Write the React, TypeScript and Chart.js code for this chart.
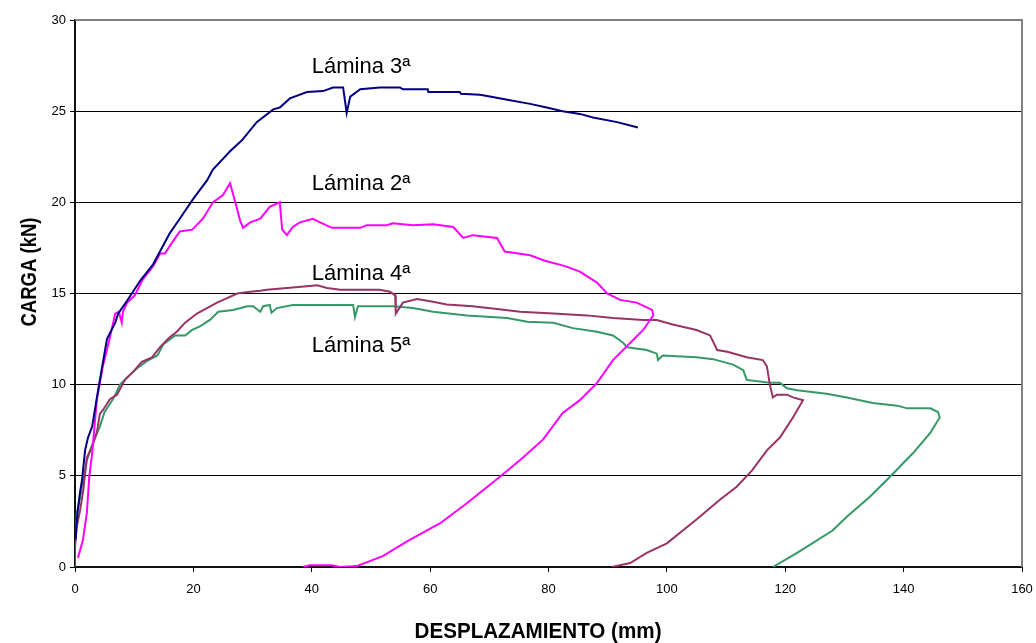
import { useEffect, useRef } from 'react';
import { Chart, registerables } from 'chart.js';
Chart.register(...registerables);

// Lámina 3ª (navy)
const lam3X = [0.1, 0.3, 0.8, 1.2, 1.7, 2.2, 2.9, 3.7, 5.4, 6.8, 7.3, 8.8, 11, 13.2, 16, 17.7, 20, 22.3, 23.3, 26.2, 28.2, 30.7, 33.5, 34.6, 36.3, 39.2, 41.9, 43.6, 45.3, 45.9, 46.5, 48.2, 51.5, 54.9, 55.4, 59.6, 59.7, 65, 65.2, 68.4, 70.1, 73.5, 76.9, 79.7, 82.4, 85.3, 87.5, 91.6, 95.1];
const lam3Y = [1.5, 2.6, 4.0, 4.8, 6.4, 7.1, 7.7, 9.3, 12.5, 13.4, 13.9, 14.6, 15.7, 16.6, 18.3, 19.1, 20.2, 21.2, 21.8, 22.8, 23.4, 24.4, 25.1, 25.2, 25.7, 26.05, 26.1, 26.3, 26.3, 24.9, 25.8, 26.2, 26.3, 26.3, 26.2, 26.2, 26.05, 26.05, 25.95, 25.9, 25.8, 25.6, 25.4, 25.2, 25.0, 24.85, 24.65, 24.4, 24.1];

// Lámina 2ª (magenta)
const lam2X = [0.5, 1.35, 2.0, 2.4, 2.9, 3.7, 4.7, 5.9, 6.8, 7.4, 7.9, 8.1, 8.8, 10.1, 11.3, 13.2, 14.4, 15.2, 16, 17.7, 19.8, 21.6, 23.3, 25, 26.2, 27, 27.9, 28.4, 29.6, 31.3, 32.9, 34.6, 35.0, 35.8, 36.8, 38, 40.2, 41.4, 43.4, 48.2, 49.3, 52.7, 53.7, 57.1, 60.5, 63.9, 65.6, 67.2, 71.3, 72.6, 76.9, 79.4, 82.8, 85.3, 88.2, 89.9, 92.1, 94.9, 97.5, 97.7, 96, 94.3, 90.9, 88.2, 85.3, 82.4, 79.1, 75.7, 71.8, 66.2, 61.7, 56.1, 52, 47.6, 44.8, 43.4, 39.7, 38.5];
const lam2Y = [0.5, 1.5, 2.95, 4.9, 6.25, 9.2, 11.0, 12.6, 13.9, 14.0, 13.4, 14.0, 14.5, 14.9, 15.7, 16.5, 17.2, 17.2, 17.6, 18.4, 18.5, 19.1, 20.0, 20.4, 21.05, 20.1, 19.0, 18.6, 18.9, 19.1, 19.75, 20.0, 18.5, 18.2, 18.65, 18.9, 19.1, 18.9, 18.6, 18.6, 18.75, 18.75, 18.85, 18.75, 18.8, 18.65, 18.05, 18.2, 18.05, 17.3, 17.1, 16.8, 16.5, 16.2, 15.6, 15.0, 14.65, 14.5, 14.1, 13.8, 13.0, 12.45, 11.35, 10.1, 9.15, 8.45, 7.0, 6.0, 4.95, 3.5, 2.4, 1.4, 0.6, 0.05, 0, 0.1, 0.1, 0];

// Lámina 4ª (maroon)
const lam4X = [0, 0, 0.3, 0.85, 1.4, 2.0, 2.9, 3.7, 4.2, 4.7, 5.9, 7.1, 8.4, 9.8, 11.3, 13, 14.4, 16, 17.2, 18.6, 20.6, 22.3, 24, 25.7, 27.4, 29.6, 31.3, 32.4, 35.8, 39.2, 40.9, 42.6, 44.8, 51.5, 53.2, 54.1, 54.2, 55.4, 57.8, 60.5, 62.8, 67.2, 71.3, 75.2, 80.8, 86.5, 90.9, 96, 98.3, 101, 105, 107.3, 108.5, 110.2, 113.5, 116.2, 116.9, 117.4, 117.9, 118.6, 120.3, 121.3, 123, 121.3, 119.1, 116.9, 114.4, 111.8, 109, 105, 100, 96.6, 93.8, 90.7];
const lam4Y = [0, 1.1, 2.2, 3.1, 4.2, 6.0, 6.6, 7.4, 8.4, 8.6, 9.2, 9.45, 10.25, 10.7, 11.25, 11.5, 12.07, 12.6, 12.9, 13.4, 13.9, 14.2, 14.5, 14.75, 15.0, 15.1, 15.15, 15.2, 15.3, 15.4, 15.45, 15.3, 15.2, 15.2, 15.1, 14.9, 13.9, 14.5, 14.7, 14.55, 14.4, 14.3, 14.15, 14.0, 13.9, 13.8, 13.65, 13.55, 13.55, 13.3, 13.0, 12.7, 11.9, 11.8, 11.5, 11.35, 11.0, 10.0, 9.3, 9.45, 9.45, 9.3, 9.15, 8.2, 7.1, 6.4, 5.3, 4.4, 3.7, 2.6, 1.3, 0.77, 0.22, 0];

// Lámina 5ª (green)
const lam5X = [0, 0.3, 0.85, 2.0, 3.0, 4.2, 5.0, 6.4, 6.8, 7.6, 8.8, 10.5, 12.2, 13.9, 14.9, 16.9, 18.6, 19.8, 21.1, 22.8, 24.2, 26.7, 29.1, 30.1, 31.3, 31.8, 32.9, 33.2, 34.1, 36.8, 47, 47.3, 47.8, 53.7, 57.1, 60.5, 66.2, 73, 76.4, 80.8, 84.1, 88.2, 90.9, 92.6, 93.3, 96.6, 98.3, 98.5, 99.3, 105, 107.8, 111.2, 112.9, 113.5, 117.4, 119.1, 120.3, 122, 127, 130.4, 134.8, 138.9, 140.6, 144.5, 145.8, 146.1, 144.5, 141.6, 137.7, 134.3, 130.4, 128, 122, 117.9];
const lam5Y = [1.3, 2.95, 3.8, 5.85, 6.8, 7.7, 8.5, 9.2, 9.45, 10.0, 10.4, 10.9, 11.3, 11.6, 12.2, 12.7, 12.7, 13.0, 13.2, 13.55, 14.0, 14.1, 14.3, 14.3, 14.0, 14.3, 14.37, 13.95, 14.2, 14.37, 14.37, 13.7, 14.3, 14.3, 14.2, 14.0, 13.8, 13.65, 13.45, 13.4, 13.1, 12.9, 12.7, 12.3, 12.05, 11.9, 11.7, 11.35, 11.6, 11.5, 11.4, 11.1, 10.8, 10.26, 10.1, 10.1, 9.8, 9.7, 9.5, 9.3, 9.0, 8.85, 8.7, 8.7, 8.5, 8.2, 7.35, 6.25, 4.95, 3.85, 2.75, 2.0, 0.77, 0];

const seriesNames = ['Lámina 3ª', 'Lámina 2ª', 'Lámina 4ª', 'Lámina 5ª'];
const seriesColors = ['#000080', '#FF00FF', '#993366', '#339966'];

// Text labels placed in data coordinates
const labelTexts = ['Lámina 3ª', 'Lámina 2ª', 'Lámina 4ª', 'Lámina 5ª'];
const labelX = [40, 40, 40, 40];
const labelY = [27.1, 20.68, 15.74, 11.79];

const xTitle = 'DESPLAZAMIENTO (mm)';
const yTitle = 'CARGA (kN)';
const xMin = 0, xMax = 160, xStep = 20;
const yMin = 0, yMax = 30, yStep = 5;

const FONT = '"Liberation Sans", Arial, Helvetica, sans-serif';

const overlay = {
  id: 'overlay',
  afterDraw(chart: any) {
    const { ctx, chartArea: a, scales } = chart;
    const sx = scales.x, sy = scales.y;
    ctx.save();
    // frame top/right
    ctx.strokeStyle = '#808080';
    ctx.lineWidth = 2;
    ctx.beginPath();
    ctx.moveTo(a.left, a.top);
    ctx.lineTo(a.right, a.top);
    ctx.lineTo(a.right, a.bottom);
    ctx.stroke();

    // series labels
    ctx.fillStyle = '#000';
    ctx.font = '22px ' + FONT;
    ctx.textAlign = 'left';
    ctx.textBaseline = 'alphabetic';
    labelTexts.forEach((t, i) => {
      ctx.fillText(t, sx.getPixelForValue(labelX[i]), sy.getPixelForValue(labelY[i]));
    });

    // x title
    ctx.font = 'bold 22px ' + FONT;
    ctx.textAlign = 'center';
    const wx = ctx.measureText(xTitle).width;
    ctx.save();
    ctx.translate(538, 638);
    ctx.scale(247 / wx, 1);
    ctx.fillText(xTitle, 0, 0);
    ctx.restore();

    // y title
    const wy = ctx.measureText(yTitle).width;
    ctx.save();
    ctx.translate(36, 272);
    ctx.rotate(-Math.PI / 2);
    ctx.scale(109 / wy, 1);
    ctx.fillText(yTitle, 0, 0);
    ctx.restore();

    ctx.restore();
  },
};

export default function App() {
  const ref = useRef<HTMLCanvasElement | null>(null);
  useEffect(() => {
    if (!ref.current) return;
    const xs = [lam3X, lam2X, lam4X, lam5X];
    const ys = [lam3Y, lam2Y, lam4Y, lam5Y];
    const chart = new Chart(ref.current, {
      type: 'scatter',
      data: {
        datasets: seriesNames.map((name, k) => ({
          label: name,
          data: xs[k].map((x, i) => ({ x, y: ys[k][i] })),
          showLine: true,
          borderColor: seriesColors[k],
          backgroundColor: seriesColors[k],
          borderWidth: 2,
          pointRadius: 0,
          pointHoverRadius: 0,
          tension: 0,
          fill: false,
        })),
      },
      options: {
        animation: false,
        responsive: true,
        maintainAspectRatio: false,
        layout: { padding: { left: 0, top: 20, right: 14, bottom: 0 } },
        plugins: { legend: { display: false }, tooltip: { enabled: false } },
        scales: {
          x: {
            type: 'linear',
            min: xMin,
            max: xMax,
            afterFit: (s: any) => { s.height = 76; s.paddingLeft = 0; s.paddingRight = 0; },
            ticks: { stepSize: xStep, color: '#000', padding: 10, font: { size: 13, family: FONT } },
            grid: { drawOnChartArea: false, drawTicks: true, tickLength: 5, tickColor: '#000', tickWidth: 1 },
            border: { color: '#111', width: 2 },
          },
          y: {
            type: 'linear',
            min: yMin,
            max: yMax,
            afterFit: (s: any) => { s.width = 75; s.paddingTop = 0; s.paddingBottom = 0; },
            ticks: { stepSize: yStep, color: '#000', padding: 4, font: { size: 13, family: FONT } },
            grid: {
              color: (c: any) => (c.tick && c.tick.value === yMax) || (c.tick && c.tick.value === yMin) ? 'rgba(0,0,0,0)' : '#000',
              lineWidth: 1,
              tickLength: 5,
              tickColor: '#000',
            },
            border: { color: '#111', width: 2 },
          },
        },
      },
      plugins: [overlay],
    });
    return () => chart.destroy();
  }, []);
  return (
    <div style={{ position: 'absolute', left: 0, top: 0, width: 1036, height: 643, background: '#fff' }}>
      <canvas ref={ref} />
    </div>
  );
}
